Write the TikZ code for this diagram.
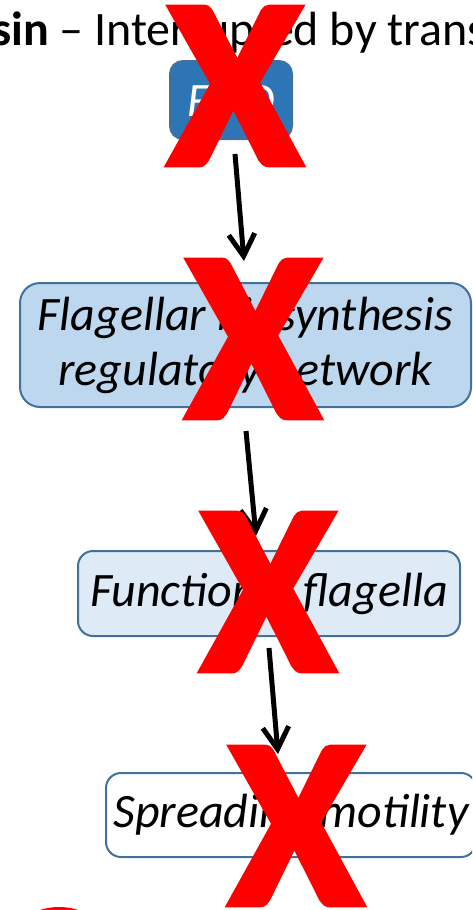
\documentclass[tikz,border=0pt]{standalone}
\usepackage{fontspec}
\setmainfont{Carlito}
\newfontfamily\cruzfont[FakeBold=3]{Carlito Bold}
\usetikzlibrary{arrows.meta}
\definecolor{azulosc}{HTML}{2E75B6}
\definecolor{azulmed}{HTML}{BDD7EE}
\definecolor{azulcla}{HTML}{DEEBF7}
\definecolor{borde}{HTML}{41719C}

\begin{document}
\begin{tikzpicture}[x=1pt,y=-1pt,
    caja/.style={draw=borde, line width=2pt, rounded corners=15pt, align=center,
      inner sep=0pt, font=\fontsize{48}{55}\selectfont\itshape},
    flecha/.style={line width=5pt, -{Straight Barb[length=22pt,width=26pt]}},
    cruz/.style={text=red, inner sep=0pt, font=\fontsize{240}{240}\cruzfont}]
    % parámetros
    \def\W{472}   % ancho
    \def\H{910}   % alto

    \useasboundingbox (0,0) rectangle (\W,\H);
    \clip (0,0) rectangle (\W,\H);

    %—————— título ——————————————————————————————————————————————————
    \node[anchor=base west, inner sep=0pt, font=\fontsize{48}{58}\selectfont]
      (titulo) at (-8,45) {\textbf{sin} – Interrupted by trans};

    %—————— cajas ———————————————————————————————————————————————————
    \node[caja, fill=azulosc, text=white, rounded corners=13pt,
      minimum width=122pt, minimum height=78pt] (flhd) at (231,100) {FlhD};
    \node[caja, fill=azulmed, rounded corners=20pt,
      minimum width=451pt, minimum height=124pt] (red) at (245.5,345)
      {Flagellar biosynthesis\\regulatory network};
    \node[caja, fill=azulcla, minimum width=382pt, minimum height=85pt]
      (flag) at (269,593.5) {Functional flagella};
    \node[caja, fill=white, minimum width=370pt, minimum height=84pt]
      (motil) at (291,815) {Spreading motility};

    %—————— flechas —————————————————————————————————————————————————
    \draw[flecha] ([xshift=4pt,yshift=-14pt]flhd.south)
      -- ([xshift=-1.5pt,yshift=21pt]red.north);
    \draw[flecha] ([xshift=0.5pt,yshift=-23pt]red.south)
      -- ([xshift=-13pt,yshift=14pt]flag.north);
    \draw[flecha] ([yshift=-11pt]flag.south)
      -- ([xshift=-13pt,yshift=18pt]motil.north);

    % marca roja abajo a la izquierda
    \draw[red, line width=4pt] (59,969) circle (60);

    %—————— cruces rojas ————————————————————————————————————————————
    \node[cruz] (x1) at (235,86)  {X};
    \node[cruz] (x2) at (253,339) {X};
    \node[cruz] (x3) at (268,592) {X};
    \node[cruz] (x4) at (296,826) {X};
  \end{tikzpicture}
\end{document}
